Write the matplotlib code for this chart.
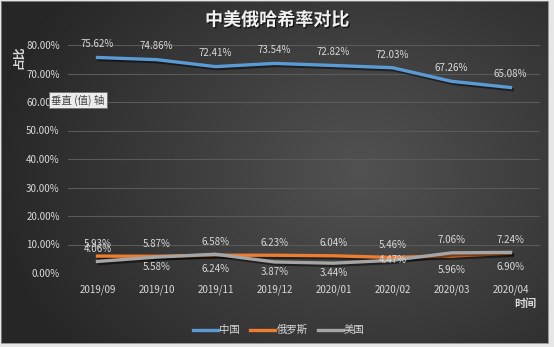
import numpy as np
import matplotlib
matplotlib.use("Agg")
import matplotlib.pyplot as plt
import matplotlib.patheffects as pe
from matplotlib.patches import Rectangle
from matplotlib.lines import Line2D

plt.rcParams['font.family'] = ['Noto Sans CJK SC', 'DejaVu Sans']

months = ['2019/09', '2019/10', '2019/11', '2019/12', '2020/01', '2020/02', '2020/03', '2020/04']
china = [75.62, 74.86, 72.41, 73.54, 72.82, 72.03, 67.26, 65.08]
russia = [5.93, 5.87, 6.24, 6.23, 6.04, 5.46, 5.96, 6.90]
usa = [4.06, 5.58, 6.58, 3.87, 3.44, 4.47, 7.06, 7.24]

# label offsets in points (vertical), per point
russia_off = [9, 9, -10, 9, 9, 9, -10, -10]
usa_off = [9, -7, 9, -7, -7, 0, 9, 9]

W, H = 554, 347
fig = plt.figure(figsize=(W / 100, H / 100), dpi=100)
fig.patch.set_facecolor('#e6e6e6')

# chart background with a soft radial gradient
bg = fig.add_axes([0, 0, 1, 1])
bg.set_xlim(0, W)
bg.set_ylim(H, 0)
bg.axis('off')
yy, xx = np.mgrid[0:H, 0:W]
r = np.sqrt(((xx - 360) / 330.0) ** 2 + ((yy - 170) / 260.0) ** 2)
shade = np.clip(0.32 - 0.15 * r, 0.15, 0.32)
img = np.dstack([shade, shade, shade])
im = bg.imshow(img, extent=(0, W, H, 0), interpolation='bilinear')
clip = Rectangle((1, 1), 547, 342, transform=bg.transData)
im.set_clip_path(clip)
bg.add_patch(Rectangle((1, 1), 547, 342, fill=False, ec='#8a8a8a', lw=0.6))

# title and axis titles
fig.text(277 / W, 1 - 20 / H, '中美俄哈希率对比', ha='center', va='center',
         fontsize=13, fontweight='bold', color='#f2f2f2',
         path_effects=[pe.withSimplePatchShadow(offset=(1, -1), shadow_rgbFace='black', alpha=0.6)])
fig.text(19 / W, 1 - 57 / H, '占比', rotation=90, ha='center', va='center',
         fontsize=8.5, fontweight='bold', color='#d9d9d9')
fig.text(525 / W, 1 - 303 / H, '时间', ha='center', va='center',
         fontsize=8, fontweight='bold', color='#d9d9d9')

ax = fig.add_axes([68 / W, 1 - 273 / H, 472 / W, 228 / H])
ax.set_facecolor('none')
x = np.arange(len(months))
ax.set_xlim(-0.5, len(months) - 0.5)
ax.set_ylim(0, 80)
ax.set_yticks(np.arange(0, 81, 10))
ax.set_yticklabels([f'{v:.2f}%' for v in np.arange(0, 81, 10)])
ax.set_xticks(x)
ax.set_xticklabels(months)
ax.grid(axis='y', color='#5a5a5a', lw=0.8)
ax.set_axisbelow(True)
for s in ax.spines.values():
    s.set_visible(False)
ax.tick_params(length=0, colors='#d9d9d9', labelsize=7)
ax.tick_params(axis='x', pad=8)
ax.tick_params(axis='y', pad=6)

shadow = [pe.SimpleLineShadow(offset=(1.2, -1.5), shadow_color='black', alpha=0.5), pe.Normal()]
ax.plot(x, china, color='#5b9bd5', lw=2.4, solid_joinstyle='round', path_effects=shadow)
ax.plot(x, russia, color='#ed7d31', lw=2.4, solid_joinstyle='round', path_effects=shadow)
ax.plot(x, usa, color='#a5a5a5', lw=2.4, solid_joinstyle='round', path_effects=shadow)

lab = dict(ha='center', va='center', fontsize=7, color='#d9d9d9', textcoords='offset points')
for i in x:
    ax.annotate(f'{china[i]:.2f}%', (i, china[i]), xytext=(0, 9.5), **lab)
    ax.annotate(f'{russia[i]:.2f}%', (i, russia[i]), xytext=(0, russia_off[i]), **lab)
    ax.annotate(f'{usa[i]:.2f}%', (i, usa[i]), xytext=(0, usa_off[i]), **lab)

handles = [Line2D([], [], color=c, lw=2.4) for c in ('#5b9bd5', '#ed7d31', '#a5a5a5')]
leg = fig.legend(handles, ['中国', '俄罗斯', '美国'], loc='center', bbox_to_anchor=(279 / W, 1 - 330 / H),
                 ncol=3, frameon=False, fontsize=7.5, handlelength=2.4, handletextpad=0.1,
                 columnspacing=1.0, labelcolor='#d9d9d9')

# hover tip over the value axis
fig.text(78 / W, 1 - 100 / H, '垂直 (值) 轴', ha='center', va='center', fontsize=7.5, color='#404040',
         bbox=dict(boxstyle='square,pad=0.25', fc='#ececec', ec='#707070', lw=0.6))

fig.savefig('out.png', dpi=100, facecolor=fig.get_facecolor())
